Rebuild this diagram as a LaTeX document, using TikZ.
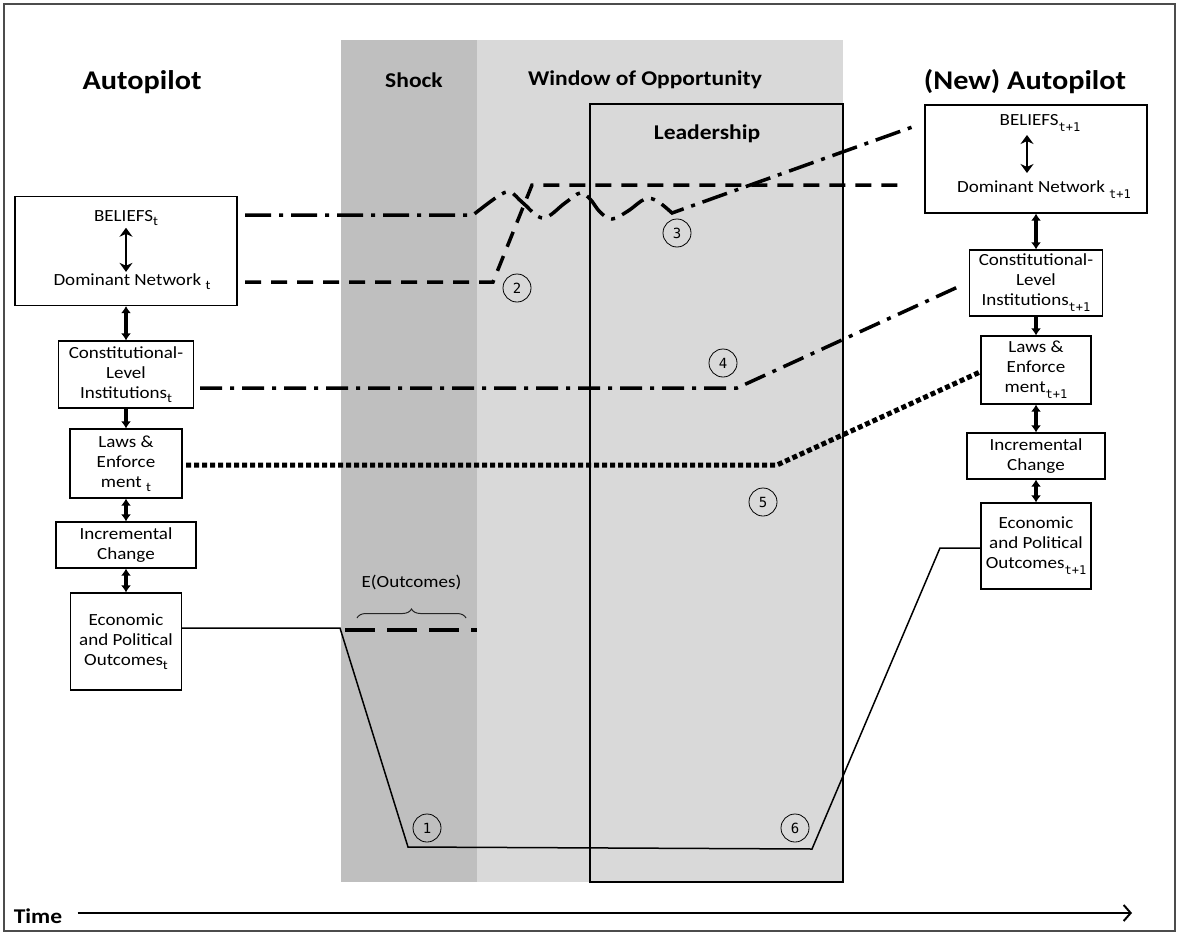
\documentclass[tikz,border=0pt]{standalone}
\usepackage{fontspec}
\setmainfont{Carlito}[FakeStretch=1.12]
\setmonofont{DejaVu Sans Mono}
\usetikzlibrary{arrows.meta,decorations.pathreplacing}
\newcommand{\bxfont}{\fontsize{17}{20}\selectfont}
\newcommand{\ttlfont}{\bfseries\fontsize{21}{24}\selectfont}
\newcommand{\bigfont}{\bfseries\fontsize{27}{30}\selectfont}
\newcommand{\numfont}{\fontsize{14}{14}\selectfont\ttfamily}
\newcommand{\lsub}[1]{\raisebox{-4pt}{\fontsize{13}{13}\selectfont #1}}
\newcommand{\rsub}[1]{\raisebox{-6pt}{\fontsize{12}{12}\selectfont\ttfamily #1}}
\definecolor{shockgray}{gray}{0.75}
\definecolor{windowgray}{gray}{0.85}

\begin{document}
\begin{tikzpicture}[x=1pt, y=-1pt,
	box node/.style={draw, line width=1.2pt, fill=white, align=center, font=\bxfont, inner sep=1pt},
	text node/.style={font=\bxfont, inner sep=2pt},
	title node/.style={font=\ttlfont},
	big node/.style={font=\bigfont},
	num node/.style={circle, draw, line width=0.8pt, minimum size=28pt, inner sep=0pt, font=\numfont},
	link/.style={line width=3.5pt, {Latex[length=7pt,width=10pt]}-{Latex[length=7pt,width=10pt]}},
	down link/.style={line width=3.5pt, -{Latex[length=7pt,width=10pt]}},
	inner link/.style={line width=2.5pt, {Stealth[length=9pt,width=13pt]}-{Stealth[length=9pt,width=13pt]}},
	belief line/.style={line width=3.5pt, dash pattern=on 26pt off 8pt on 4pt off 8pt},
	network line/.style={line width=3.5pt, dash pattern=on 16pt off 10pt},
	rule line/.style={line width=3.5pt, dash pattern=on 22pt off 8pt on 4pt off 8pt},
	law line/.style={line width=5pt, dash pattern=on 5pt off 3pt},
	outcome line/.style={line width=1.5pt},
	expect line/.style={line width=4pt, dash pattern=on 30pt off 12pt}]
	\useasboundingbox (0,0) rectangle (1178,934);

	% phases
	\fill[shockgray] (341,40) rectangle (477,882);
	\fill[windowgray] (477,40) rectangle (843,882);
	\draw[line width=1.3pt, fill=windowgray] (590,104) rectangle (843,882);
	\draw[gray!60!black, line width=1.5pt] (4,4) rectangle (1175,931);

	\node[big node] (auto) at (142,82) {Autopilot};
	\node[title node] (shock) at (414,80) {Shock};
	\node[title node] (window) at (645,80) {Window of Opportunity};
	\node[big node] (newauto) at (1025,82) {(New) Autopilot};
	\node[title node] (lead) at (707,134) {Leadership};

	% autopilot at t
	\node[box node, minimum width=222pt, minimum height=109pt] (bel) at (126,251) {};
	\node[text node] (belt) at (126,218) {BELIEFS\lsub{t}};
	\node[text node] (domt) at (132,282) {Dominant Network \lsub{t}};
	\node[box node, minimum width=135pt, minimum height=67pt] (con) at (126,374.5) {Constitutional-\\Level\\Institutions\lsub{t}};
	\node[box node, minimum width=112pt, minimum height=69pt] (law) at (126,463.5) {Laws \&\\Enforce\\ment \lsub{t}};
	\node[box node, minimum width=140pt, minimum height=46pt] (inc) at (126,545) {Incremental\\Change};
	\node[box node, minimum width=111pt, minimum height=97pt] (eco) at (126,641.5) {Economic\\and Political\\Outcomes\lsub{t}};
	\draw[inner link] (belt) -- (domt.north -| belt);
	\path (bel) edge[link] (con)
		(con) edge[down link] (law)
		(law) edge[link] (inc)
		(inc) edge[link] (eco);

	% autopilot at t+1
	\node[box node, minimum width=222pt, minimum height=108pt] (nbel) at (1036,159) {};
	\node[text node] (nbelt) at (1040,123) {BELIEFS\rsub{t+1}};
	\node[text node] (ndomt) at (1044,190) {Dominant Network \rsub{t+1}};
	\node[box node, minimum width=133pt, minimum height=66pt] (ncon) at (1036,283) {Constitutional-\\Level\\Institutions\rsub{t+1}};
	\node[box node, minimum width=110pt, minimum height=68pt] (nlaw) at (1036,370) {Laws \&\\Enforce\\ment\rsub{t+1}};
	\node[box node, minimum width=138pt, minimum height=46pt] (ninc) at (1036,456) {Incremental\\Change};
	\node[box node, minimum width=110pt, minimum height=86pt] (neco) at (1036,546) {Economic\\and Political\\Outcomes\rsub{t+1}};
	\draw[inner link] (1027,135) -- (1027,173);
	\path (nbel) edge[link] (ncon)
		(ncon) edge[down link] (nlaw)
		(nlaw) edge[link] (ninc)
		(ninc) edge[link] (neco);

	% paths through the shock
	\coordinate (b0) at (245,215);
	\coordinate (b1) at (918,125);
	\draw[belief line] (b0) -- (473,215) -- plot[smooth, tension=0.6] coordinates {(473,215) (497,197) (510,192) (523,203) (543,218) (565,203) (580,193) (590,199) (600,212) (612,219) (628,211) (645,199) (657,201) (672,213)} -- (b1);
	\coordinate (d0) at (245,282);
	\coordinate (d1) at (903,185);
	\draw[network line] (d0) -- (493,282) -- (532,185) -- (d1);
	\coordinate (c0) at (200,388);
	\coordinate (c1) at (960,286);
	\draw[rule line] (c0) -- (737,388) -- (c1);
	\coordinate (l0) at (186,465);
	\coordinate (l1) at (980,372);
	\draw[law line] (l0) -- (777,465) -- (l1);
	\draw[outcome line] (eco.east |- 0,628) -- (340,628) -- (408,847) -- (812,849) -- (940,548) -- (neco.west |- 0,548);
	\coordinate (e0) at (345,630);
	\coordinate (e1) at (477,630);
	\draw[expect line] (e0) -- (e1);
	\draw[decorate, decoration={brace, amplitude=9pt}, line width=1pt, gray!30!black] (357,618) -- (466,618)
		node[midway, above=24pt, font=\bxfont, black] (exp) {E(Outcomes)};

	% steps
	\node[num node] (n1) at (427,828) {1};
	\node[num node] (n2) at (517,288) {2};
	\node[num node] (n3) at (677,233) {3};
	\node[num node] (n4) at (723,363) {4};
	\node[num node] (n5) at (763,502) {5};
	\node[num node] (n6) at (795,828) {6};

	% time
	\node[title node] (time) at (38,916) {Time};
	\coordinate (tend) at (1132,913);
	\draw[line width=2pt, -{Straight Barb[length=7pt,width=16pt]}] (time.east |- tend) ++(12,0) -- (tend);
\end{tikzpicture}
\end{document}
